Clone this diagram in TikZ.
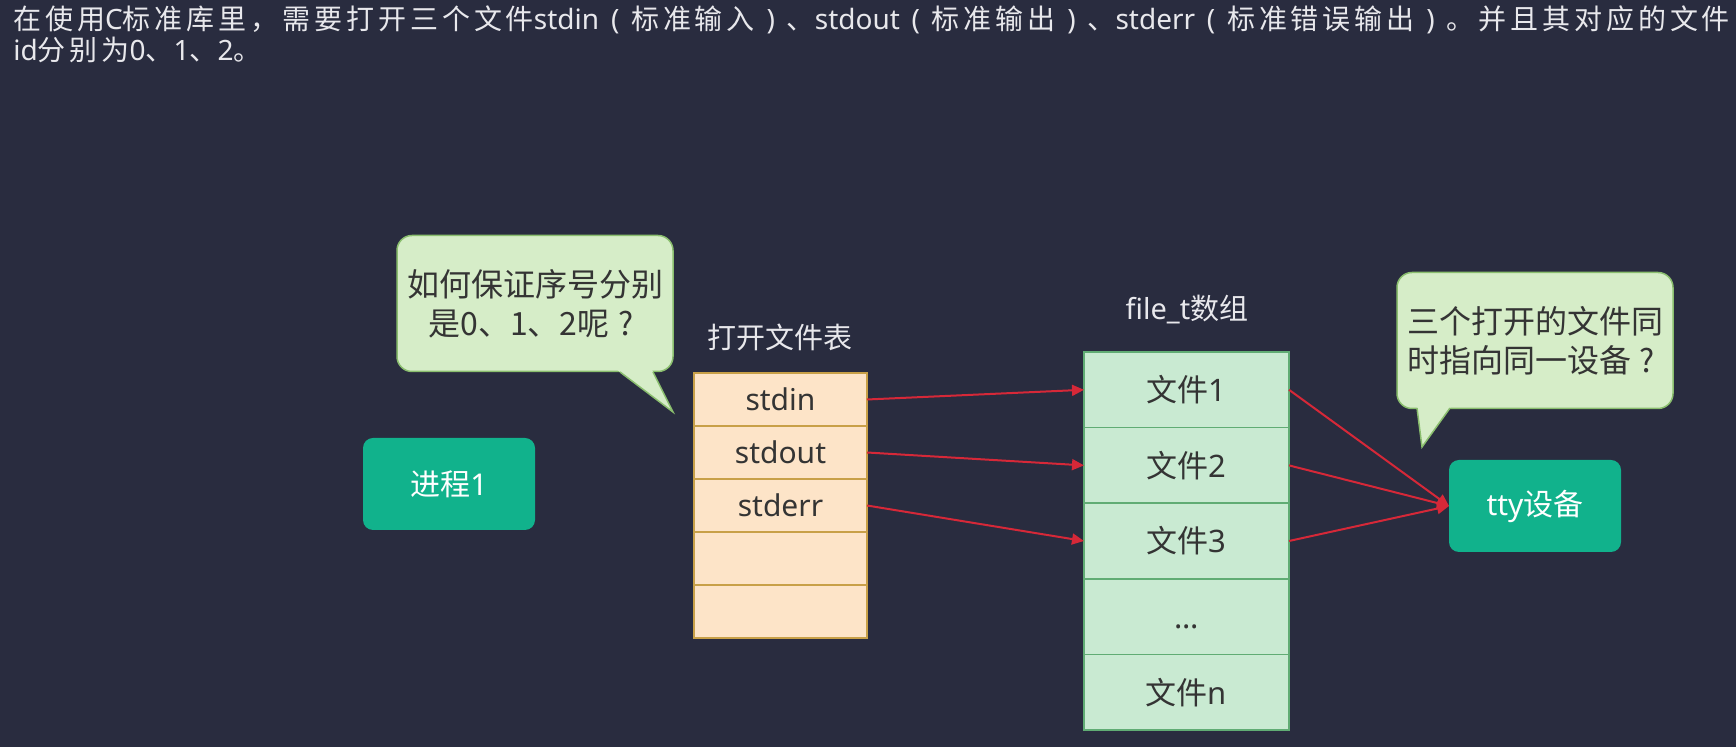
\documentclass[tikz,border=0pt]{standalone}
\usepackage{fontspec}
\setmainfont{Noto Sans}
\newfontfamily\cjk{Noto Sans CJK SC}
\newfontfamily\cjkwide[LetterSpace=14]{Noto Sans CJK SC}
\newcommand{\zh}[1]{{\cjk #1}}
\newcommand{\zhw}[1]{{\cjkwide #1}}
\newcommand{\fwbox}[2][1em]{\makebox[#1]{#2}}
\usepackage{tikz}
\usetikzlibrary{arrows.meta}
\usetikzlibrary{calc}
\usetikzlibrary{positioning}

\definecolor{bgnavy}{RGB}{41,44,63}
\definecolor{titlewhite}{RGB}{232,232,236}
\definecolor{inkgray}{RGB}{52,52,52}
\definecolor{bubblefill}{RGB}{214,237,200}
\definecolor{bubbleline}{RGB}{138,190,110}
\definecolor{fdfill}{RGB}{253,228,200}
\definecolor{fdline}{RGB}{200,160,72}
\definecolor{filefill}{RGB}{201,234,210}
\definecolor{fileline}{RGB}{96,172,116}
\definecolor{procteal}{RGB}{17,178,140}
\definecolor{linkred}{RGB}{214,40,56}

\tikzset{
  title/.style={anchor=north west, inner sep=0pt, align=left, text=titlewhite,
    font=\fontsize{14}{15.5}\selectfont},
  bubble/.style={draw=bubbleline, fill=bubblefill, line width=0.75pt,
    rounded corners=7.5pt, inner sep=0pt, minimum width=138pt,
    minimum height=68pt, align=center, text=inkgray,
    font=\fontsize{16}{19.5}\selectfont\cjk},
  tailedge/.style={draw=bubbleline, line width=0.75pt},
  tabletitle/.style={anchor=base, text=titlewhite,
    font=\fontsize{14.5}{17}\selectfont},
  fdcell/.style={draw=fdline, fill=fdfill, line width=0.75pt,
    minimum width=86.5pt, minimum height=26.5pt, inner sep=0pt,
    outer sep=0pt, text=inkgray, font=\fontsize{15}{18}\selectfont},
  filecell/.style={draw=fileline, fill=filefill, line width=0.75pt,
    minimum width=102.5pt, minimum height=37.8pt, inner sep=0pt,
    outer sep=0pt, text=inkgray, font=\fontsize{15.5}{18}\selectfont},
  procbox/.style={fill=procteal, rounded corners=5pt, minimum width=86pt,
    minimum height=46pt, inner sep=0pt, outer sep=0pt, text=white,
    font=\fontsize{15}{18}\selectfont},
  link/.style={draw=linkred, line width=1pt,
    -{Triangle[length=6pt,width=5.5pt]}}
}

\begin{document}
\begin{tikzpicture}[x=0.5pt, y=-0.5pt]

  \fill [bgnavy] (0, 0) rectangle (1736, 747);
  \useasboundingbox (0, 0) rectangle (1736, 747);

  \node [title] (intro) at (13, 5)
  {\zhw{在使用}C\zhw{标准库里，需要打开三个文件}stdin\fwbox[1.14em]{(}\zhw{标准输入}\fwbox[1.14em]{)}\zhw{、}stdout\fwbox[1.14em]{(}\zhw{标准输出}\fwbox[1.14em]{)}\zhw{、}stderr\fwbox[1.14em]{(}\zhw{标准错误输出}\fwbox[1.14em]{)}\zhw{。并且其对应的文件}\\
   id\zhw{分别为}0\zhw{、}1\zhw{、}2\zhw{。}};

  % question bubbles
  \node [bubble] (ask1) at (535, 303.5) {如何保证序号分别\\是0、1、2呢\fwbox{?}};
  \coordinate (tip1) at (673, 412);
  \coordinate (b1l) at (620, 372);
  \coordinate (b1r) at (653, 372);
  \fill [bubblefill] ($(tip1)!1.1!(b1l)$) -- ($(tip1)!1.1!(b1r)$) -- (tip1) -- cycle;
  \draw [tailedge] (b1l) -- (tip1) -- (b1r);

  \node [bubble] (ask2) at (1535, 340.5) {三个打开的文件同\\时指向同一设备\fwbox{?}};
  \coordinate (tip2) at (1422, 447);
  \coordinate (b2l) at (1417, 408);
  \coordinate (b2r) at (1450, 408);
  \fill [bubblefill] ($(tip2)!1.1!(b2l)$) -- ($(tip2)!1.1!(b2r)$) -- (tip2) -- cycle;
  \draw [tailedge] (b2l) -- (tip2) -- (b2r);

  \node [procbox] (proc) at (449, 484) {\zh{进程}1};
  \node [procbox] (tty) at (1535, 506) {tty\zh{设备}};

  % open file table
  \node [tabletitle] (fdtitle) at (780, 349) {\zh{打开文件表}};
  \node [fdcell] (fd1) at (780.5, 399.5) {stdin};
  \node [fdcell, below=0pt of fd1] (fd2) {stdout};
  \node [fdcell, below=0pt of fd2] (fd3) {stderr};
  \node [fdcell, below=0pt of fd3] (fd4) {};
  \node [fdcell, below=0pt of fd4] (fd5) {};

  % file_t array
  \node [tabletitle] (filetitle) at (1187, 320) {file\_t\zh{数组}};
  \node [filecell] (file1) at (1186.5, 389.8) {\zh{文件}1};
  \node [filecell, below=0pt of file1] (file2) {\zh{文件}2};
  \node [filecell, below=0pt of file2] (file3) {\zh{文件}3};
  \node [filecell, below=0pt of file3] (file4) {\vphantom{\zh{文件}}...};
  \node [filecell, below=0pt of file4] (file5) {\zh{文件}n};

  \foreach \i in {1, 2, 3} {
    \draw [link] (fd\i.east) -- (file\i.west);
    \draw [link] (file\i.east) -- (tty.west);
  }

\end{tikzpicture}
\end{document}
